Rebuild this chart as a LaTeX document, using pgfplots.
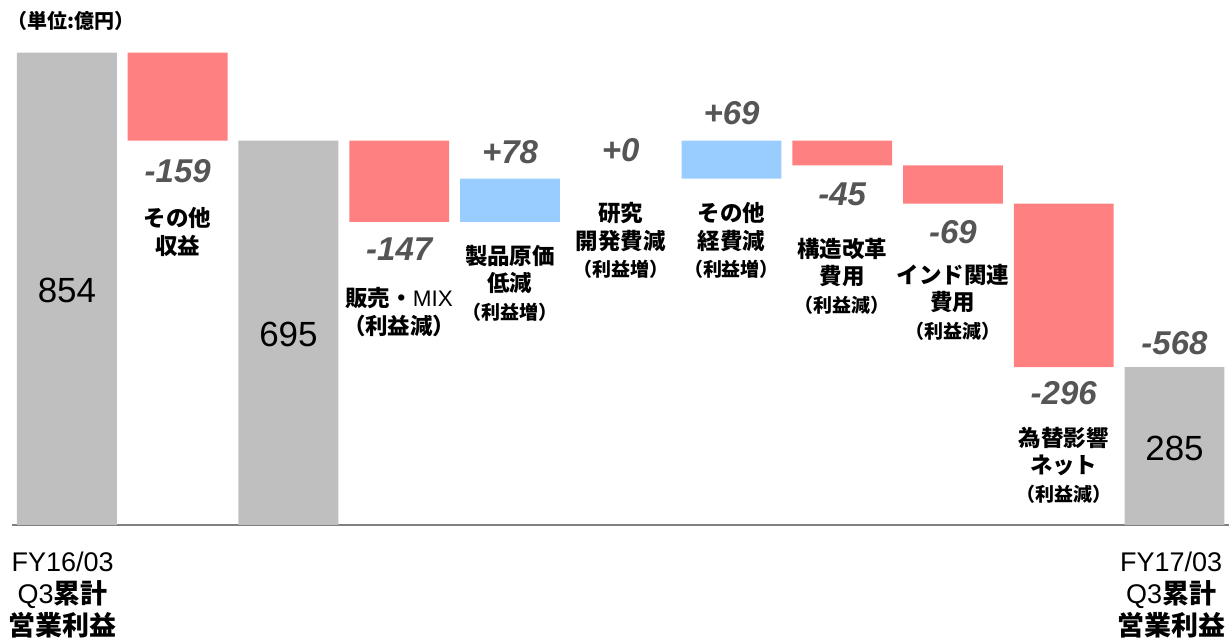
\documentclass[border=0pt]{standalone}
\usepackage{fontspec}
\setmainfont{Liberation Sans}
\newfontfamily\jp{Noto Sans CJK JP}
\usepackage{pgfplots}
\pgfplotsset{compat=1.18}
\definecolor{gbar}{HTML}{BFBFBF}
\definecolor{rbar}{HTML}{FF8080}
\definecolor{bbar}{HTML}{99CCFF}
\definecolor{vtxt}{HTML}{555555}
\definecolor{axl}{HTML}{808080}
\newcommand{\jb}{\jp\bfseries}
\newcommand{\sm}[1]{{\fontsize{19}{22}\selectfont\jb #1}}
\tikzset{
  bigval/.style={font=\fontsize{35}{40}\selectfont, text=black},
  chg/.style={font=\fontsize{33}{38}\selectfont\bfseries\itshape, text=vtxt},
  cat/.style={font=\fontsize{22.5}{27.5}\selectfont\jb, align=center, text=black},
  bot/.style={font=\fontsize{27}{32}\selectfont, align=center, text=black},
}
\begin{document}
\begin{tikzpicture}
\begin{axis}[
  scale only axis, width=1217.7pt, height=472.3pt,
  xmin=-0.5, xmax=10.49, ymin=0, ymax=854,
  axis x line=bottom, axis y line=none,
  x axis line style={-, draw=axl, line width=2.5pt},
  xtick=\empty, ytick=\empty,
  ybar stacked, bar width=100pt,
  clip=false,
]
\addplot[draw=none, fill=white, fill opacity=0] coordinates {(0,0) (1,695) (2,0) (3,548) (4,548) (5,626) (6,626) (7,650) (8,581) (9,285) (10,0)};
\addplot[draw=none, fill=gbar] coordinates {(0,854) (1,0) (2,695) (3,0) (4,0) (5,0) (6,0) (7,0) (8,0) (9,0) (10,285)};
\addplot[draw=none, fill=rbar] coordinates {(0,0) (1,159) (2,0) (3,147) (4,0) (5,0) (6,0) (7,45) (8,69) (9,296) (10,0)};
\addplot[draw=none, fill=bbar] coordinates {(0,0) (1,0) (2,0) (3,0) (4,78) (5,0) (6,69) (7,0) (8,0) (9,0) (10,0)};
\addplot[stack plots=false, sharp plot, draw=none, mark=none,
  nodes near coords, point meta=explicit symbolic,
  every node near coord/.style={bigval, anchor=center, yshift=-2pt}]
  coordinates {(0,854)[854] (2,695)[695] (10,285)[285]};

\node[chg] at (axis cs:1,640) {-159};
\node[chg] at (axis cs:3,499) {-147};
\node[chg] at (axis cs:4,674) {+78};
\node[chg] at (axis cs:5,678) {+0};
\node[chg] at (axis cs:6,745) {+69};
\node[chg] at (axis cs:7,597) {-45};
\node[chg] at (axis cs:8,530) {-69};
\node[chg] at (axis cs:9,239) {-296};
\node[chg] at (axis cs:10,329) {-568};

\node[cat] at (axis cs:1,530) {その他\\収益};
\node[cat] at (axis cs:3,385) {販売・{\normalfont\fontsize{22.5}{27.5}\selectfont MIX}\\（利益減）};
\node[cat] at (axis cs:4,437) {製品原価\\低減\\\sm{（利益増）}};
\node[cat] at (axis cs:5,514) {研究\\開発費減\\\sm{（利益増）}};
\node[cat] at (axis cs:6,514) {その他\\経費減\\\sm{（利益増）}};
\node[cat] at (axis cs:7,450) {構造改革\\費用\\\sm{（利益減）}};
\node[cat] at (axis cs:8,403) {インド関連\\費用\\\sm{（利益減）}};
\node[cat] at (axis cs:9,108) {為替影響\\ネット\\\sm{（利益減）}};

\node[bot] at (axis cs:-0.04,-127) {FY16/03\\Q3{\jb 累計}\\{\jb 営業利益}};
\node[bot] at (axis cs:9.97,-127) {FY17/03\\Q3{\jb 累計}\\{\jb 営業利益}};
\node[anchor=west, font=\fontsize{20}{24}\selectfont\jb] at (axis cs:-0.57,912) {（単位:億円）};
\end{axis}
\path[draw=none] (-11.6pt,-116pt) rectangle (1218.4pt,525pt);
\end{tikzpicture}
\end{document}
